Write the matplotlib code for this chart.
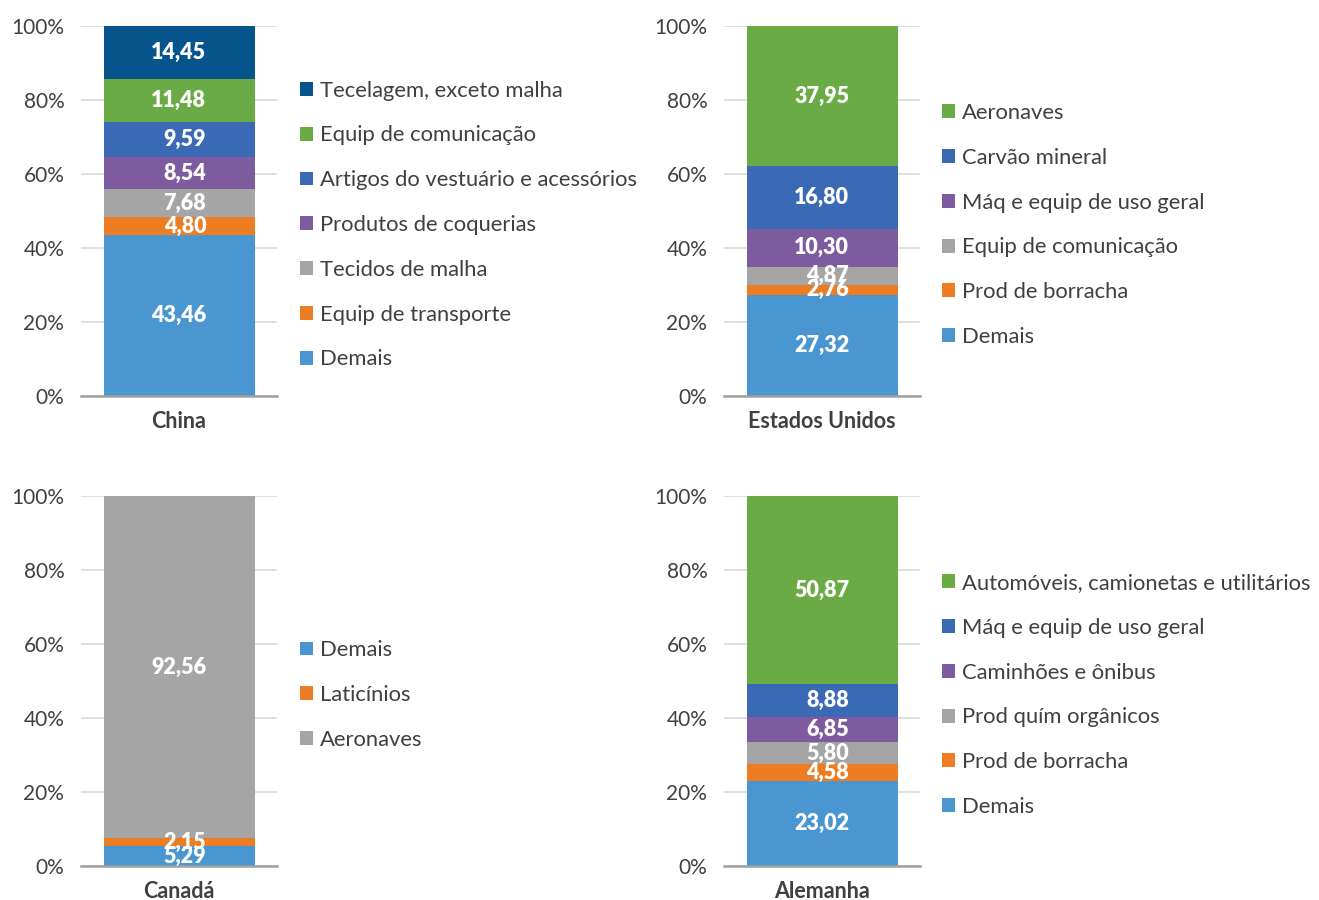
import matplotlib
matplotlib.use("Agg")
import matplotlib.pyplot as plt
from matplotlib.patches import Patch

plt.rcParams['font.family'] = ['Lato', 'DejaVu Sans']

# colours from the bottom of each stack upwards
colors = ['#4A96D0', '#ED7D22', '#A5A5A5', '#7D5B9E', '#3A6AB5', '#6AAB45', '#06548C']

# China
china_cats = ['Demais', 'Equip de transporte', 'Tecidos de malha', 'Produtos de coquerias',
              'Artigos do vestuário e acessórios', 'Equip de comunicação', 'Tecelagem, exceto malha']
china_vals = [43.46, 4.80, 7.68, 8.54, 9.59, 11.48, 14.45]

# Estados Unidos
eua_cats = ['Demais', 'Prod de borracha', 'Equip de comunicação', 'Máq e equip de uso geral',
            'Carvão mineral', 'Aeronaves']
eua_vals = [27.32, 2.76, 4.87, 10.30, 16.80, 37.95]

# Canadá
canada_cats = ['Demais', 'Laticínios', 'Aeronaves']
canada_vals = [5.29, 2.15, 92.56]

# Alemanha
alemanha_cats = ['Demais', 'Prod de borracha', 'Prod quím orgânicos', 'Caminhões e ônibus',
                 'Máq e equip de uso geral', 'Automóveis, camionetas e utilitários']
alemanha_vals = [23.02, 4.58, 5.80, 6.85, 8.88, 50.87]

panels = [
    ('China', china_cats, china_vals, True),
    ('Estados Unidos', eua_cats, eua_vals, True),
    ('Canadá', canada_cats, canada_vals, False),
    ('Alemanha', alemanha_cats, alemanha_vals, True),
]

W, H = 1319, 900
fig = plt.figure(figsize=(W / 100, H / 100), dpi=100)

# axes boxes in pixels: (left, right, top, bottom), legend anchor (x, y centre)
boxes = [
    ((81, 277, 26, 396), (300, 225)),
    ((724, 920, 26, 396), (942, 225)),
    ((81, 277, 496, 866), (300, 695)),
    ((724, 920, 496, 866), (942, 695)),
]

txt = '#404040'
bar_w = 151 / 196

for (name, cats, vals, rev), ((l, r, t, b), (lx, ly)) in zip(panels, boxes):
    ax = fig.add_axes([l / W, 1 - b / H, (r - l) / W, (b - t) / H])
    bottom = 0
    handles = []
    for i, (c, v) in enumerate(zip(cats, vals)):
        ax.bar(0, v, bottom=bottom, width=bar_w, color=colors[i], zorder=2)
        lab = f"{v:.2f}".replace('.', ',')
        ax.text(bar_w * 0.18, bottom + v / 2, lab, ha='right', va='center',
                color='white', fontsize=15.5, fontweight='heavy', zorder=3)
        handles.append(Patch(facecolor=colors[i], label=c))
        bottom += v
    if rev:
        handles = handles[::-1]
    ax.set_xlim(-0.5, 0.5)
    ax.set_ylim(0, 100)
    ax.set_yticks([0, 20, 40, 60, 80, 100])
    ax.set_yticklabels([f"{p}%" for p in range(0, 101, 20)])
    ax.set_xticks([0])
    ax.set_xticklabels([name], fontweight='bold', fontsize=15.5)
    ax.tick_params(axis='both', length=0, colors=txt)
    ax.tick_params(axis='y', pad=12, labelsize=15)
    ax.tick_params(axis='x', pad=11)
    ax.grid(axis='y', color='#D9D9D9', linewidth=1.2, zorder=0)
    for s in ['top', 'right', 'left']:
        ax.spines[s].set_visible(False)
    ax.spines['bottom'].set_color('#A0A0A0')
    ax.spines['bottom'].set_linewidth(1.8)
    ax.legend(handles=handles, loc='center left', bbox_to_anchor=(lx / W, 1 - ly / H),
              bbox_transform=fig.transFigure, frameon=False, fontsize=15.8,
              handlelength=0.6, handleheight=0.6, handletextpad=0.3,
              labelspacing=1.13, borderpad=0, borderaxespad=0, labelcolor=txt)

fig.savefig('out.png', dpi=100)
